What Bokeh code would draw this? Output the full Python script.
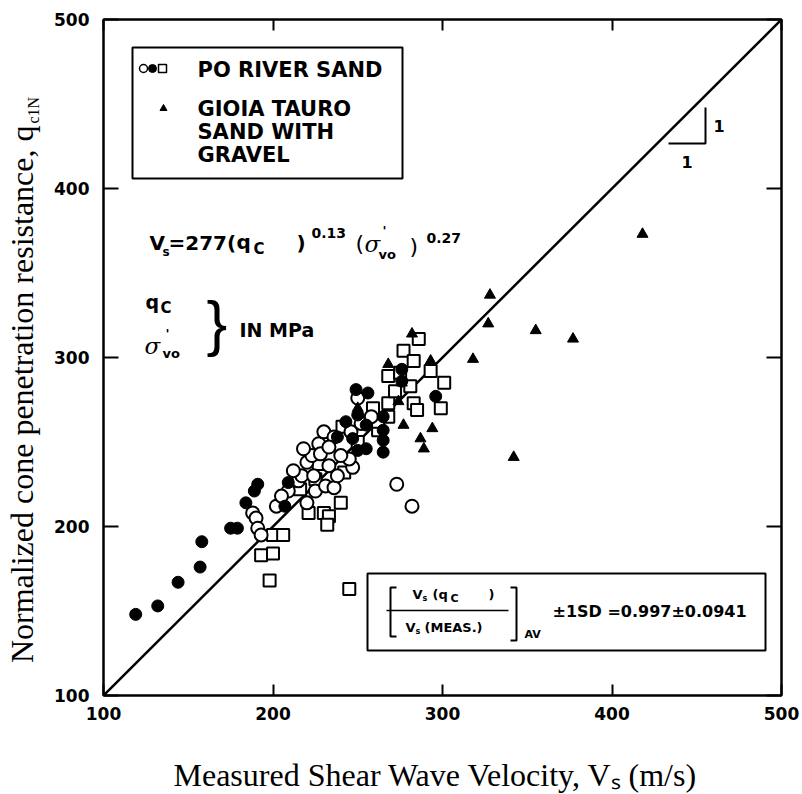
import math
from bokeh.plotting import figure
from bokeh.models import Range1d, FixedTicker, LinearAxis, Label, BoxAnnotation
from bokeh.embed import file_html
from bokeh.resources import INLINE

# ---------------- data ----------------
tick_values = [100, 200, 300, 400, 500]

# Po River sand - open circles
po_open_vs = [188, 190, 191, 193, 202, 209, 215, 217, 220, 220, 223, 225, 227, 228, 230, 231, 236,
              247, 250, 236, 246, 252, 258, 273, 282, 233, 212, 224, 233, 238, 245, 218, 240, 205]
po_open_qc = [208, 205, 199, 195, 212, 221, 227, 230, 214, 238, 242, 221, 249, 243, 256, 224, 223,
              235, 276, 253, 256, 261, 265, 225, 212, 247, 233, 230, 236, 230, 240, 246, 242, 218]

# Po River sand - open squares
po_sq_vs = [198, 245, 193, 200, 200, 206, 221, 230, 233, 232, 216, 225, 227, 240, 242, 259, 268,
            268, 262, 268, 275, 277, 283, 281, 283, 285, 293, 301, 299, 286, 272, 262, 250, 241]
po_sq_qc = [168, 163, 183, 184, 195, 195, 208, 208, 206, 201, 222, 228, 237, 214, 232, 270, 273,
            265, 257, 289, 291, 304, 298, 283, 273, 269, 292, 285, 270, 311, 280, 262, 250, 259]

# Po River sand - filled circles
po_fill_vs = [119, 132, 144, 157, 158, 175, 179, 184, 189, 191, 207, 209, 238, 247, 250, 255, 255,
              256, 265, 265, 265, 265, 276, 276, 296, 243, 250, 249]
po_fill_qc = [148, 153, 167, 176, 191, 199, 199, 214, 221, 225, 212, 226, 253, 252, 245, 246, 260,
              279, 257, 251, 244, 265, 286, 293, 277, 262, 266, 281]

# Gioia Tauro sand with gravel - filled triangles
gt_vs = [418, 328, 327, 355, 377, 318, 342, 294, 287, 289, 277, 282, 268, 293, 276, 274, 250]
gt_qc = [373, 337, 320, 316, 311, 299, 241, 258, 252, 246, 260, 314, 296, 298, 285, 274, 270]

one_to_one = [100, 500]

# ---------------- figure ----------------
W, H = 802, 794
FL, FT, FR, FB = 103, 19, 781, 695          # frame edges in picture pixels
p = figure(width=W, height=H, x_range=Range1d(100, 500), y_range=Range1d(100, 500),
           output_backend="svg", toolbar_location=None,
           min_border_left=FL, min_border_right=W - FR, min_border_top=FT,
           min_border_bottom=H - FB)
p.xgrid.visible = False
p.ygrid.visible = False
p.background_fill_color = "white"
p.border_fill_color = "white"
p.outline_line_color = "black"
p.outline_line_width = 2

TICK_FONT = "DejaVu Sans"


def style_axis(ax, show_labels=True, tick_in=14):
    ax.ticker = FixedTicker(ticks=tick_values)
    ax.major_tick_in = tick_in
    ax.major_tick_out = 0
    ax.minor_tick_in = 0
    ax.minor_tick_out = 0
    ax.axis_line_color = "black"
    ax.axis_line_width = 2
    ax.major_tick_line_color = "black"
    ax.major_tick_line_width = 2
    if show_labels:
        ax.major_label_text_font = TICK_FONT
        ax.major_label_text_font_style = "bold"
        ax.major_label_text_font_size = "17px"
        ax.major_label_text_color = "black"
    else:
        ax.major_label_text_font_size = "0px"
        ax.major_label_text_alpha = 0
        ax.major_label_standoff = 0


style_axis(p.xaxis[0], tick_in=11)
style_axis(p.yaxis[0], tick_in=15)
p.xaxis[0].major_label_standoff = 11
p.yaxis[0].major_label_standoff = 14

right_ax = LinearAxis()
top_ax = LinearAxis()
style_axis(right_ax, show_labels=False, tick_in=15)
style_axis(top_ax, show_labels=False, tick_in=11)
p.add_layout(right_ax, "right")
p.add_layout(top_ax, "above")


# ---------------- annotation helpers (positions given in picture pixels) ----------------
def dx(px):
    return 100 + (px - FL) * 400 / (FR - FL)


def dy(py):
    return 100 + (FB - py) * 400 / (FB - FT)


def lab(text, px, py, size, font="DejaVu Sans", style="bold", align="left",
        baseline="middle", angle=0.0, place="center"):
    p.add_layout(Label(x=dx(px), y=dy(py), text=text, text_font=font,
                       text_font_size=f"{size}px", text_font_style=style,
                       text_align=align, text_baseline=baseline, angle=angle,
                       text_color="black"), place)


def seg(xs_px, ys_px, width=2):
    p.line([dx(v) for v in xs_px], [dy(v) for v in ys_px], line_color="black",
           line_width=width)


# boxes (drawn under the glyphs)
p.add_layout(BoxAnnotation(left=dx(132), right=dx(402), top=dy(47), bottom=dy(178),
                           fill_color="white", fill_alpha=1.0, line_color="black",
                           line_alpha=1.0, line_width=2, level="underlay"))
p.add_layout(BoxAnnotation(left=dx(367), right=dx(765), top=dy(573), bottom=dy(650),
                           fill_color="white", fill_alpha=1.0, line_color="black",
                           line_alpha=1.0, line_width=2, level="underlay"))

# ---------------- 1:1 line and data ----------------
p.line(one_to_one, one_to_one, line_color="black", line_width=2.5)

p.scatter(po_sq_vs, po_sq_qc, marker="square", size=12, fill_color="white",
          line_color="black", line_width=2)
p.scatter(po_open_vs, po_open_qc, marker="circle", size=13, fill_color="white",
          line_color="black", line_width=2)
p.scatter(po_fill_vs, po_fill_qc, marker="circle", size=12, fill_color="black",
          line_color="black", line_width=1)
p.scatter(gt_vs, gt_qc, marker="triangle", size=11, fill_color="black",
          line_color="black", line_width=1)

# legend content
p.scatter([dx(143)], [dy(68)], marker="circle", size=8, fill_color="white",
          line_color="black", line_width=1.5)
p.scatter([dx(152)], [dy(68)], marker="circle", size=8, fill_color="black",
          line_color="black")
p.scatter([dx(162)], [dy(68)], marker="square", size=8, fill_color="white",
          line_color="black", line_width=1.5)
p.scatter([dx(163)], [dy(108)], marker="triangle", size=7, fill_color="black",
          line_color="black")
lab("PO RIVER SAND", 197, 69, 21)
lab("GIOIA TAURO", 197, 108, 21)
lab("SAND WITH", 197, 131, 21)
lab("GRAVEL", 197, 154, 21)

# equation
lab("V", 149, 242, 20)
lab("s", 162, 251, 12)
lab("=277(", 168, 242, 20)
lab("q", 236, 241, 20)
lab("C", 253, 248, 15)
lab(")", 296, 242, 20)
lab("0.13", 311, 232, 14)
lab("(", 355, 243, 22, style="normal")
lab("σ", 364, 243, 23, font="DejaVu Serif", style="italic")
lab("'", 382, 230, 13)
lab("vo", 378, 254, 13)
lab(")", 409, 246, 22, style="normal")
lab("0.27", 426, 237, 14)

lab("q", 145, 301, 19)
lab("C", 160, 307, 15)
lab("σ", 144, 345, 23, font="DejaVu Serif", style="italic")
lab("'", 165, 333, 13)
lab("vo", 162, 353, 13)
lab("}", 206, 322, 62, font="Liberation Sans", style="normal")
lab("IN MPa", 239, 329, 19)

# slope triangle
seg([668, 705, 705], [143, 143, 107], width=2)
lab("1", 713, 125, 16)
lab("1", 681, 161, 16)

# bottom statistics box content
seg([396, 390, 390, 396], [587, 587, 636, 636], width=2)
seg([510, 516, 516, 510], [587, 587, 640, 640], width=2)
seg([386, 508], [610, 610], width=1.5)
lab("V", 412, 594, 13)
lab("s", 422, 598, 8)
lab("(q", 432, 594, 13)
lab("C", 450, 598, 11)
lab(")", 488, 594, 13)
lab("V", 405, 627, 13)
lab("s", 415, 631, 8)
lab("(MEAS.)", 424, 627, 13)
lab("AV", 524, 634, 11)
lab("±1SD =0.997±0.0941", 552, 611, 16)

# axis titles (placed in side panels so that they are not clipped by the frame)
lab("Normalized cone penetration resistance, q", 21, 125, 32,
    font="Liberation Serif", style="normal", align="right", baseline="alphabetic",
    angle=math.pi / 2, place="left")
lab("c1N", 33, 123, 16, font="Liberation Serif", style="normal", align="left",
    baseline="alphabetic", angle=math.pi / 2, place="right")
lab("Measured Shear Wave Velocity, V\u209b (m/s)", 173, 774, 32, font="Liberation Serif",
    style="normal", align="left", baseline="alphabetic", place="below")

open("out.html", "w").write(file_html(p, INLINE))
